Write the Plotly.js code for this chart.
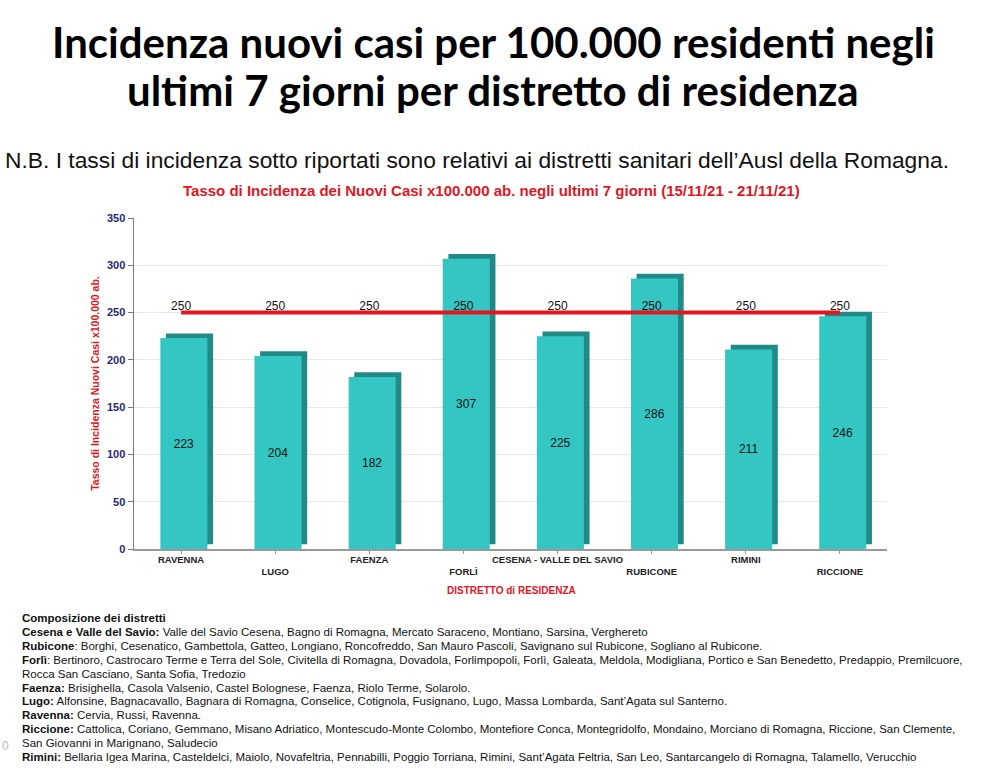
<!DOCTYPE html>
<html>
<head>
<meta charset="utf-8">
<script src="https://cdn.plot.ly/plotly-3.0.1.min.js"></script>
<style>html,body{margin:0;padding:0;background:#fff;}#chart{width:985px;height:768px;}</style>
</head>
<body>
<div id="chart"></div>
<script>
// ---- data ----
var districts = ['RAVENNA','LUGO','FAENZA','FORLÌ','CESENA - VALLE DEL SAVIO','RUBICONE','RIMINI','RICCIONE'];
var rates = [223, 204, 182, 307, 225, 286, 211, 246];
var threshold = [250, 250, 250, 250, 250, 250, 250, 250];
var yTicks = [0, 50, 100, 150, 200, 250, 300, 350];

var mainTitle1 = 'Incidenza nuovi casi per 100.000 residenti negli';
var mainTitle2 = 'ultimi 7 giorni per distretto di residenza';
var note = 'N.B. I tassi di incidenza sotto riportati sono relativi ai distretti sanitari dell\u2019Ausl della Romagna.';
var chartTitle = 'Tasso di Incidenza dei Nuovi Casi x100.000 ab. negli ultimi 7 giorni (15/11/21 - 21/11/21)';
var yTitle = 'Tasso di Incidenza Nuovi Casi x100.000 ab.';
var xTitle = 'DISTRETTO di RESIDENZA';
var footerLines = [
  '<b>Composizione dei distretti</b>',
  '<b>Cesena e Valle del Savio:</b> Valle del Savio Cesena, Bagno di Romagna, Mercato Saraceno, Montiano, Sarsina, Verghereto',
  '<b>Rubicone</b>: Borghi, Cesenatico, Gambettola, Gatteo, Longiano, Roncofreddo, San Mauro Pascoli, Savignano sul Rubicone, Sogliano al Rubicone.',
  '<b>Forlì</b>: Bertinoro, Castrocaro Terme e Terra del Sole, Civitella di Romagna, Dovadola, Forlimpopoli, Forlì, Galeata, Meldola, Modigliana, Portico e San Benedetto, Predappio, Premilcuore,',
  'Rocca San Casciano, Santa Sofia, Tredozio',
  '<b>Faenza:</b> Brisighella, Casola Valsenio, Castel Bolognese, Faenza, Riolo Terme, Solarolo.',
  '<b>Lugo:</b> Alfonsine, Bagnacavallo, Bagnara di Romagna, Conselice, Cotignola, Fusignano, Lugo, Massa Lombarda, Sant\u2019Agata sul Santerno.',
  '<b>Ravenna:</b> Cervia, Russi, Ravenna.',
  '<b>Riccione:</b> Cattolica, Coriano, Gemmano, Misano Adriatico, Montescudo-Monte Colombo, Montefiore Conca, Montegridolfo, Mondaino, Morciano di Romagna, Riccione, San Clemente,',
  'San Giovanni in Marignano, Saludecio',
  '<b>Rimini:</b> Bellaria Igea Marina, Casteldelci, Maiolo, Novafeltria, Pennabilli, Poggio Torriana, Rimini, Sant\u2019Agata Feltria, San Leo, Santarcangelo di Romagna, Talamello, Verucchio'
];

// staggered tick labels (odd ones on a second row)
var tickText = districts.map(function(d, i){ return i % 2 ? '<br>' + d : d; });

// ---- layout geometry (pixels) ----
var W = 985, H = 768;
var L = 134, R = 887, T = 218, B = 549;
function px(x){ return (x - L) / (R - L); }
function py(y){ return (B - y) / (B - T); }

var FONT = 'Arial, "Liberation Sans", sans-serif';

// depth (side/top) of the pseudo-3D bars: drawn on the base axis, behind
var shadow = {
  type: 'bar', x: districts, y: rates, yaxis: 'y',
  width: 0.5, offset: -0.16,
  marker: {color: '#218a87', line: {width: 0}},
  hoverinfo: 'skip', showlegend: false
};
var bars = {
  type: 'bar', x: districts, y: rates, yaxis: 'y2',
  width: 0.5, offset: -0.22,
  marker: {color: '#33c6c3', line: {width: 0}},
  text: rates.map(String), textposition: 'inside', insidetextanchor: 'middle',
  textfont: {family: FONT, size: 12, color: '#111'}, constraintext: 'none',
  hoverinfo: 'skip', showlegend: false
};
var line = {
  type: 'scatter', x: districts, y: threshold, yaxis: 'y2', mode: 'lines+text',
  line: {color: '#e3161f', width: 4},
  text: threshold.map(String), textposition: 'top center',
  textfont: {family: FONT, size: 12, color: '#111'},
  hoverinfo: 'skip', showlegend: false
};

var TITLEFONT = {family: 'Lato, "Open Sans", sans-serif', size: 42, color: '#000', weight: 'bold'};
var annotations = [
  {text: mainTitle1, x: px(493), y: py(42), xref: 'paper', yref: 'paper', xanchor: 'center', yanchor: 'middle',
   showarrow: false, font: TITLEFONT},
  {text: mainTitle2, x: px(493), y: py(90), xref: 'paper', yref: 'paper', xanchor: 'center', yanchor: 'middle',
   showarrow: false, font: TITLEFONT},
  {text: note, x: px(3), y: py(160), xref: 'paper', yref: 'paper', xanchor: 'left', yanchor: 'middle',
   showarrow: false, font: {family: FONT, size: 22.8, color: '#111'}},
  {text: '<b>' + chartTitle + '</b>', x: px(491), y: py(190), xref: 'paper', yref: 'paper', xanchor: 'center', yanchor: 'middle',
   showarrow: false, font: {family: FONT, size: 15, color: '#e3161f'}},
  {text: '<b>' + xTitle + '</b>', x: px(511), y: py(590), xref: 'paper', yref: 'paper', xanchor: 'center', yanchor: 'middle',
   showarrow: false, font: {family: FONT, size: 10, color: '#e3161f'}},
  {text: '0', x: px(0), y: py(746), xref: 'paper', yref: 'paper', xanchor: 'left', yanchor: 'middle',
   showarrow: false, font: {family: FONT, size: 12, color: '#bbb'}}
];
footerLines.forEach(function(t, i){
  annotations.push({text: t, x: px(20), y: py(618 + i * 13.9), xref: 'paper', yref: 'paper',
    xanchor: 'left', yanchor: 'middle', align: 'left', showarrow: false,
    font: {family: FONT, size: 11.5, color: '#111'}});
});

var layout = {
  width: W, height: H,
  margin: {l: L, r: W - R, t: T, b: H - B, pad: 0},
  paper_bgcolor: '#fff', plot_bgcolor: '#fff',
  barmode: 'overlay',
  showlegend: false,
  xaxis: {
    type: 'category', range: [-0.5, 7.5],
    tickmode: 'array', tickvals: districts, ticktext: tickText, tickangle: 0,
    tickfont: {family: FONT, size: 9.5, color: '#222', weight: 'bold'},
    showline: true, linecolor: '#9a9a9a', linewidth: 1.5,
    ticks: 'outside', ticklen: 3, tickcolor: '#9a9a9a', ticklabelstandoff: -2,
    showgrid: false, zeroline: false, fixedrange: true
  },
  yaxis: {
    range: [-5, 345], visible: false, showgrid: false, zeroline: false, fixedrange: true
  },
  yaxis2: {
    overlaying: 'y', side: 'left',
    range: [0, 350], tickmode: 'array', tickvals: yTicks,
    tickfont: {family: FONT, size: 11, color: '#28287a', weight: 'bold'},
    showline: true, linecolor: '#7474aa', linewidth: 1.5,
    ticks: 'outside', ticklen: 5, tickcolor: '#7474aa',
    showgrid: true, gridcolor: '#e8e8e8', gridwidth: 1, zeroline: false,
    title: {text: '<b>' + yTitle + '</b>', standoff: 5, font: {family: FONT, size: 10.5, color: '#e3161f'}},
    fixedrange: true
  },
  annotations: annotations
};

Plotly.newPlot('chart', [shadow, bars, line], layout, {staticPlot: true, displayModeBar: false});
</script>
</body>
</html>
